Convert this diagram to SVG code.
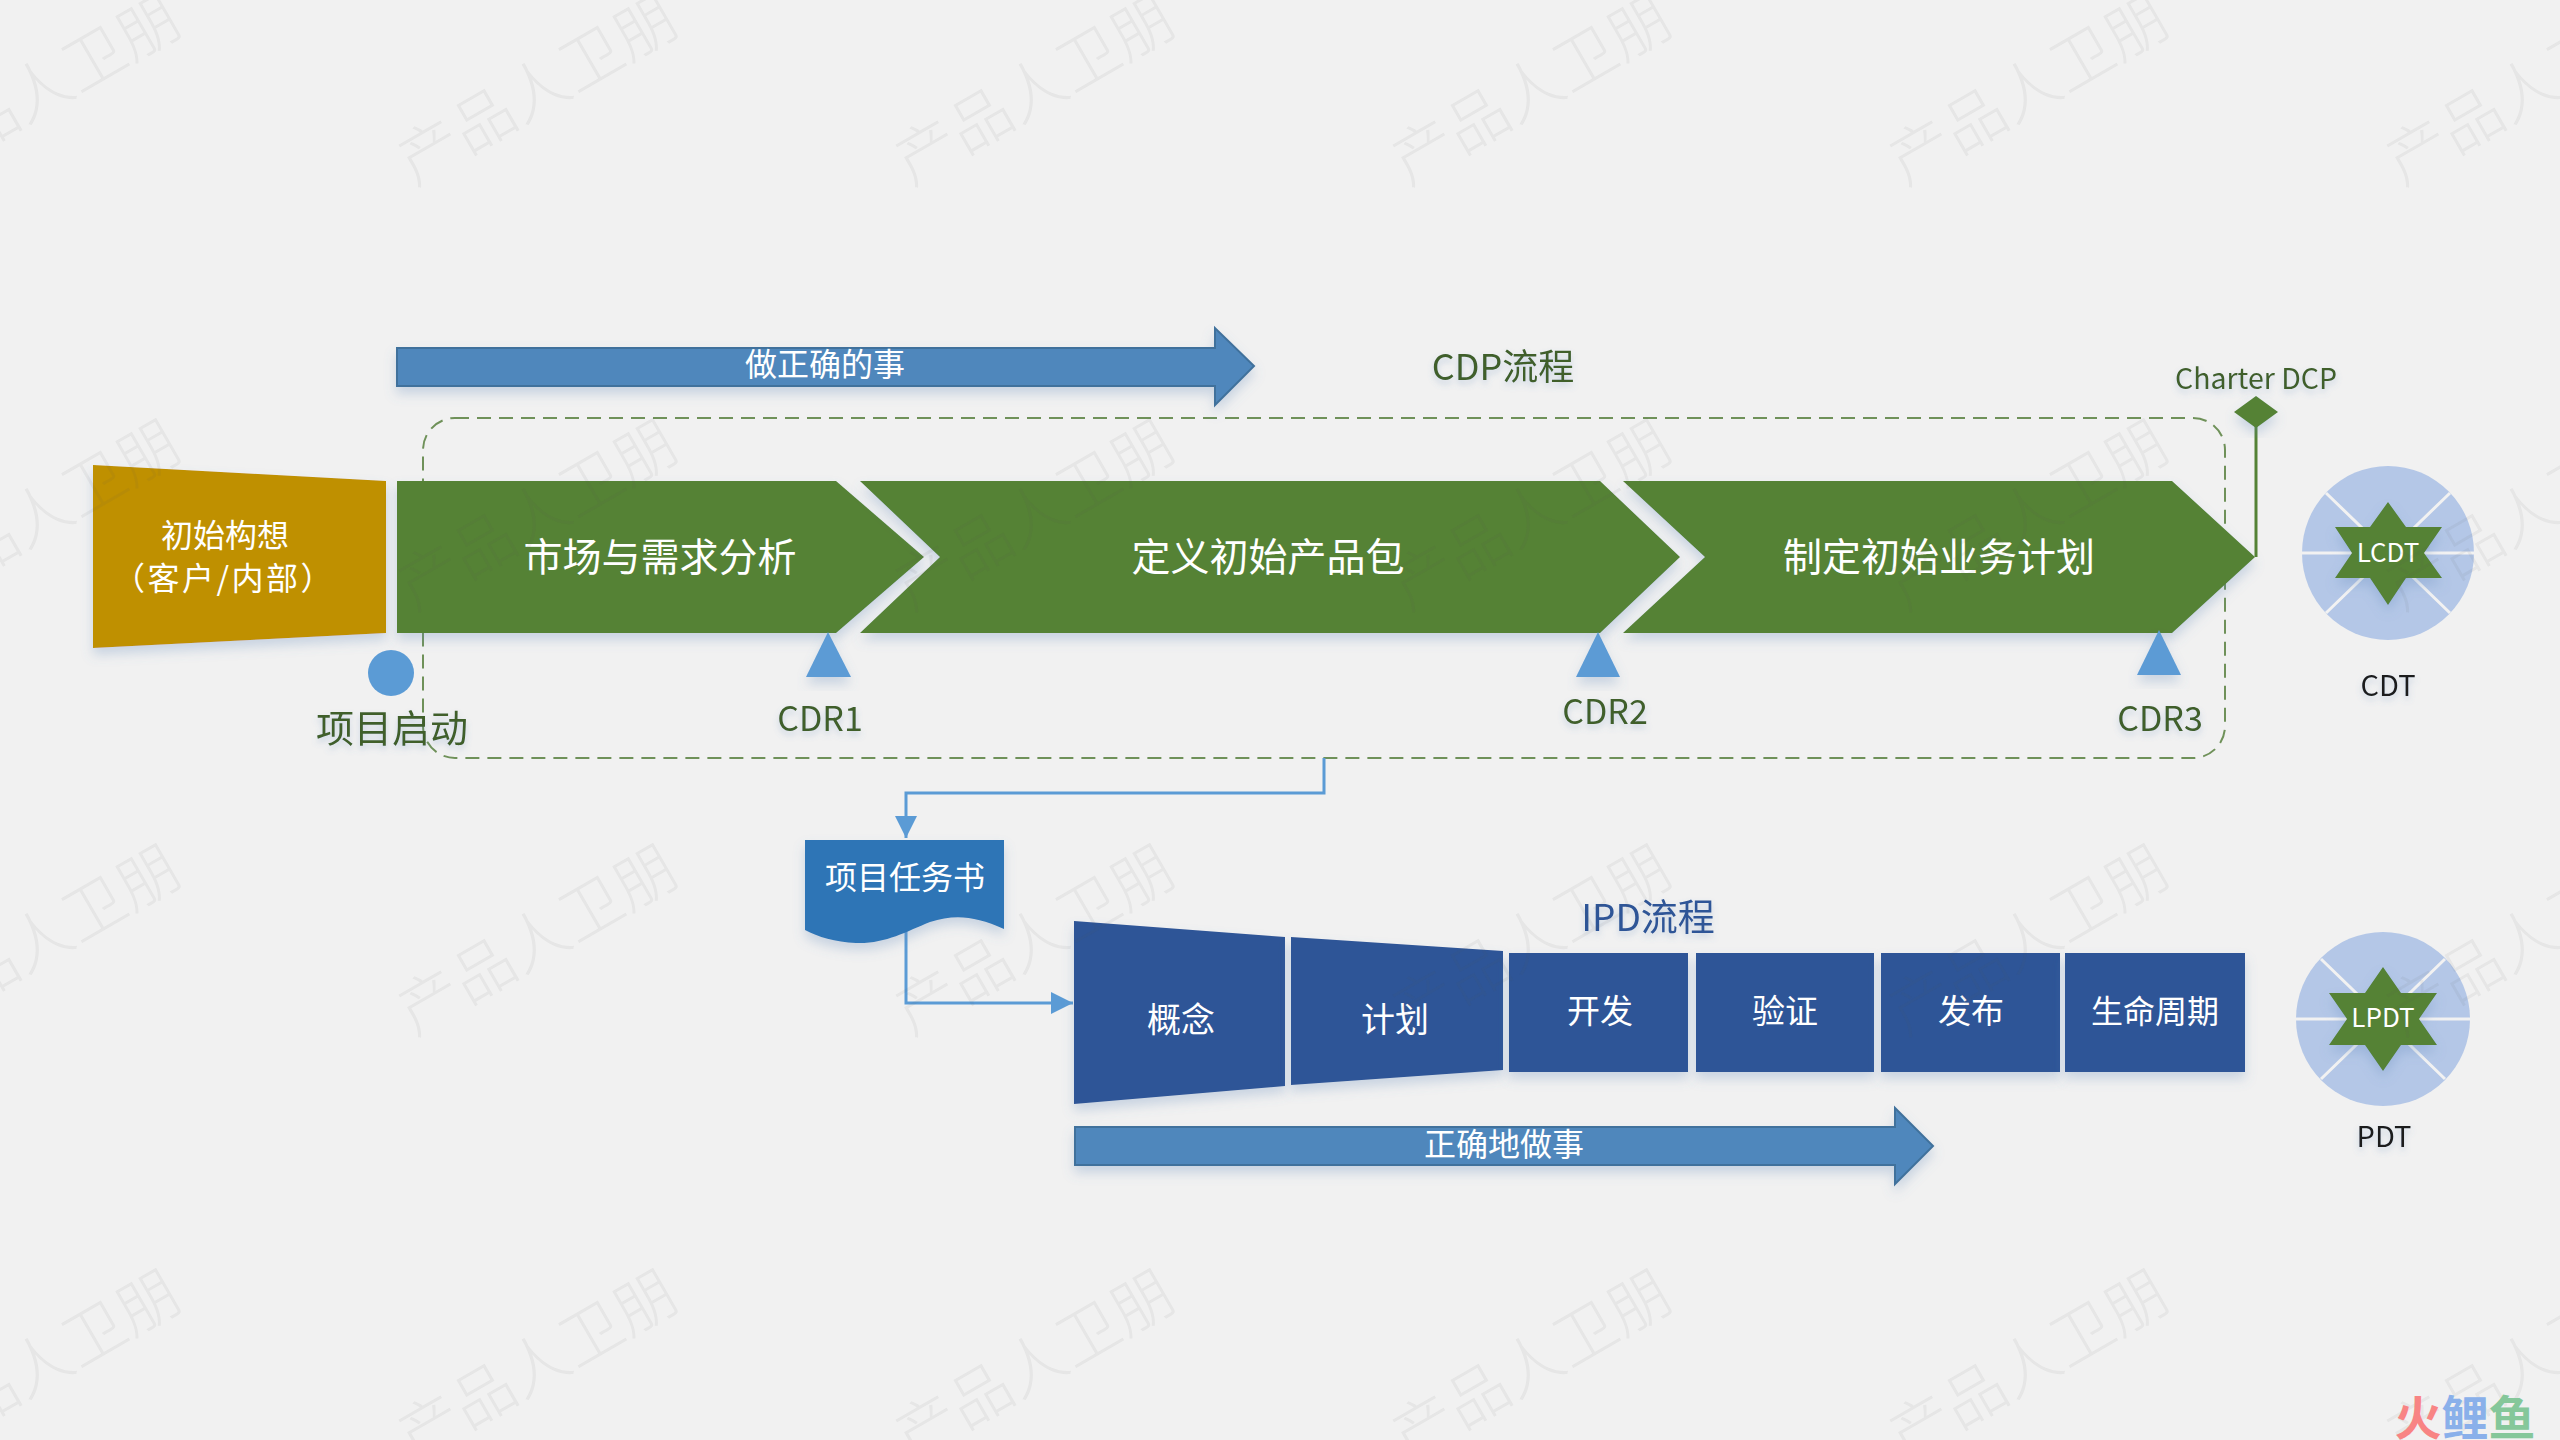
<svg xmlns="http://www.w3.org/2000/svg" width="2560" height="1440" viewBox="0 0 2560 1440">
<defs>
<filter id="sh" x="-20%" y="-20%" width="140%" height="150%"><feDropShadow dx="0" dy="7" stdDeviation="6" flood-color="#5b86b8" flood-opacity="0.28"/></filter>
<filter id="ts" x="-20%" y="-30%" width="140%" height="170%"><feDropShadow dx="0" dy="4" stdDeviation="3" flood-color="#5b86b8" flood-opacity="0.3"/></filter>
<marker id="ah" markerUnits="userSpaceOnUse" markerWidth="24" markerHeight="24" refX="22" refY="11" orient="auto"><path d="M0 0L22 11L0 22Z" fill="#5b9bd5"/></marker>
</defs>
<style>
text{font-family:"Noto Sans CJK SC","Noto Sans",sans-serif;text-anchor:middle;dominant-baseline:central}
.w{fill:#fff}
.gl{fill:#3f5f2c;filter:url(#ts)}
.blk{fill:#1a1a1a;font-size:29px;filter:url(#ts)}
.grn{fill:#548235;filter:url(#sh)}
.dblu{fill:#2f5597;filter:url(#sh)}
.arrow{fill:#4f87bc;stroke:#41719c;stroke-width:2;filter:url(#sh)}
.tri{fill:#5b9bd5;filter:url(#sh)}
.spoke{stroke:#f2f2f2;stroke-width:3}
.wm{fill:#555;fill-opacity:.07;font-size:62px;font-weight:300}
</style>
<rect width="2560" height="1440" fill="#f1f1f1"/>

<g id="cdp-frame"><rect x="423" y="418" width="1802" height="340" rx="32" fill="none" stroke="#6f9159" stroke-width="2" stroke-dasharray="14 8"/></g>

<g id="idea"><path d="M93 465L386 481V633L93 648Z" fill="#bf9000" filter="url(#sh)"/><text class="w" x="225" y="533" font-size="32">初始构想</text><text class="w" x="224" y="576" font-size="32" letter-spacing="2.5">（客户/内部）</text></g>
<g id="stage-market"><path class="grn" d="M397 481H836L924 557L836 633H397Z"/><text class="w" x="660" y="554" font-size="39">市场与需求分析</text></g>
<g id="stage-package"><path class="grn" d="M860 481H1600L1680 557L1600 633H860L940 557Z"/><text class="w" x="1268" y="554" font-size="39">定义初始产品包</text></g>
<g id="stage-plan"><path class="grn" d="M1623 481H2172L2255 557L2172 633H1623L1705 557Z"/><text class="w" x="1939" y="554" font-size="39">制定初始业务计划</text></g>

<g id="top-arrow"><path class="arrow" d="M397 348H1215V328L1254 366L1215 405V386H397Z"/><text class="w" x="825" y="362" font-size="32">做正确的事</text></g>
<g id="cdp-title"><text class="gl" x="1503" y="364" font-size="36">CDP流程</text></g>

<g id="start"><circle cx="391" cy="673" r="23" fill="#5b9bd5"/><text class="gl" x="392" y="725" font-size="38">项目启动</text></g>
<g id="cdr1"><path class="tri" d="M828 632L851 677H806Z"/><text class="gl" x="820" y="716" font-size="34">CDR1</text></g>
<g id="cdr2"><path class="tri" d="M1598 632L1620 677H1576Z"/><text class="gl" x="1605" y="709" font-size="34">CDR2</text></g>
<g id="cdr3"><path class="tri" d="M2159 630L2181 675H2137Z"/><text class="gl" x="2160" y="716" font-size="34">CDR3</text></g>

<g id="charter-dcp"><path d="M2256 412V557" stroke="#548235" stroke-width="3" fill="none"/><path d="M2256 396L2278 412L2256 428L2234 412Z" fill="#548235" filter="url(#sh)"/><text class="gl" x="2256" y="376" font-size="28.5">Charter DCP</text></g>

<g id="cdt"><ellipse cx="2388" cy="553" rx="86" ry="87" fill="#b4c7e7"/><path class="spoke" d="M2302 553H2474M2326 493L2450 613M2450 493L2326 613"/><path class="grn" d="M2388 502L2406 527H2442L2424 553L2442 578H2406L2388 605L2370 578H2335L2352 553L2335 527H2370Z"/><text class="w" x="2388" y="550" font-size="26">LCDT</text><text class="blk" x="2388" y="683">CDT</text></g>
<g id="pdt"><ellipse cx="2383" cy="1019" rx="87" ry="87" fill="#b4c7e7"/><path class="spoke" d="M2296 1019H2470M2321 959L2445 1079M2445 959L2321 1079"/><path class="grn" d="M2383 967L2401 993H2437L2419 1019L2437 1045H2401L2383 1071L2365 1045H2329L2347 1019L2329 993H2365Z"/><text class="w" x="2383" y="1015" font-size="26">LPDT</text><text class="blk" x="2384" y="1134">PDT</text></g>

<g id="connectors" fill="none" stroke="#5b9bd5" stroke-width="3"><path d="M1324 758V793H906V838" marker-end="url(#ah)"/><path d="M906 930V1003H1073" marker-end="url(#ah)"/></g>

<g id="charter-doc"><path d="M805 840H1004V929C975 916 955 914 930 922C905 932 885 944 856 943C835 942 818 937 805 930Z" fill="#2e75b6" filter="url(#sh)"/><text class="w" x="905" y="875" font-size="32">项目任务书</text></g>
<g id="ipd-title"><text x="1648" y="915" font-size="37" fill="#2f5597" style="filter:url(#ts)">IPD流程</text></g>
<g id="ipd-concept"><path class="dblu" d="M1074 921L1285 937V1086L1074 1104Z"/><text class="w" x="1181" y="1017" font-size="34">概念</text></g>
<g id="ipd-plan"><path class="dblu" d="M1291 937L1503 951V1070L1291 1085Z"/><text class="w" x="1395" y="1017" font-size="34">计划</text></g>
<g id="ipd-dev"><rect class="dblu" x="1509" y="953" width="179" height="119"/><text class="w" x="1600" y="1009" font-size="33">开发</text></g>
<g id="ipd-verify"><rect class="dblu" x="1696" y="953" width="178" height="119"/><text class="w" x="1785" y="1009" font-size="33">验证</text></g>
<g id="ipd-release"><rect class="dblu" x="1881" y="953" width="179" height="119"/><text class="w" x="1971" y="1009" font-size="33">发布</text></g>
<g id="ipd-life"><rect class="dblu" x="2065" y="953" width="180" height="119"/><text class="w" x="2155" y="1009" font-size="32">生命周期</text></g>
<g id="bottom-arrow"><path class="arrow" d="M1075 1127H1895V1108L1933 1146L1895 1184V1165H1075Z"/><text class="w" x="1504" y="1142" font-size="32">正确地做事</text></g>

<g id="watermarks">
<text class="wm" transform="translate(38 85) rotate(-30)">产品人卫朋</text><text class="wm" transform="translate(535 85) rotate(-30)">产品人卫朋</text><text class="wm" transform="translate(1032 85) rotate(-30)">产品人卫朋</text><text class="wm" transform="translate(1529 85) rotate(-30)">产品人卫朋</text><text class="wm" transform="translate(2026 85) rotate(-30)">产品人卫朋</text><text class="wm" transform="translate(2523 85) rotate(-30)">产品人卫朋</text>
<text class="wm" transform="translate(38 510) rotate(-30)">产品人卫朋</text><text class="wm" transform="translate(535 510) rotate(-30)">产品人卫朋</text><text class="wm" transform="translate(1032 510) rotate(-30)">产品人卫朋</text><text class="wm" transform="translate(1529 510) rotate(-30)">产品人卫朋</text><text class="wm" transform="translate(2026 510) rotate(-30)">产品人卫朋</text><text class="wm" transform="translate(2523 510) rotate(-30)">产品人卫朋</text>
<text class="wm" transform="translate(38 935) rotate(-30)">产品人卫朋</text><text class="wm" transform="translate(535 935) rotate(-30)">产品人卫朋</text><text class="wm" transform="translate(1032 935) rotate(-30)">产品人卫朋</text><text class="wm" transform="translate(1529 935) rotate(-30)">产品人卫朋</text><text class="wm" transform="translate(2026 935) rotate(-30)">产品人卫朋</text><text class="wm" transform="translate(2523 935) rotate(-30)">产品人卫朋</text>
<text class="wm" transform="translate(38 1360) rotate(-30)">产品人卫朋</text><text class="wm" transform="translate(535 1360) rotate(-30)">产品人卫朋</text><text class="wm" transform="translate(1032 1360) rotate(-30)">产品人卫朋</text><text class="wm" transform="translate(1529 1360) rotate(-30)">产品人卫朋</text><text class="wm" transform="translate(2026 1360) rotate(-30)">产品人卫朋</text><text class="wm" transform="translate(2523 1360) rotate(-30)">产品人卫朋</text>
</g>
<g id="logo"><text x="2465" y="1414" font-size="47" font-weight="700"><tspan fill="#f88484">火</tspan><tspan fill="#8ab0ea">鲤</tspan><tspan fill="#85c79a">鱼</tspan></text></g>
</svg>
